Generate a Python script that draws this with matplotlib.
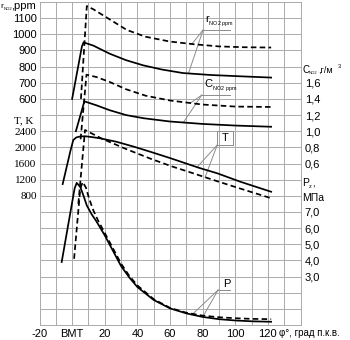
import numpy as np
import matplotlib
matplotlib.use("Agg")
import matplotlib.pyplot as plt

# ---------------- data ----------------
# r_NO2, ppm
phi_r_solid = [0, 6, 7, 13, 23, 33, 43.5, 55, 68, 85, 103, 122]
r_solid = [600, 925, 950, 930, 880, 840, 808, 782, 760, 748, 740, 732]
phi_r_dash = [5.4, 9, 13, 17, 25, 33.5, 45, 60, 75, 90, 105, 122]
r_dash = [600, 1175, 1155, 1130, 1080, 1027, 985, 955, 938, 925, 920, 918]

# C_NO2, g/m3
phi_c_solid = [2.3, 7.5, 15, 23, 33, 44, 60, 80, 100, 122]
c_solid = [1.0, 1.37, 1.32, 1.26, 1.20, 1.16, 1.12, 1.09, 1.07, 1.055]
phi_c_dash = [5.2, 8.8, 15, 23, 33, 45, 60, 80, 100, 122]
c_dash = [0.9, 1.70, 1.67, 1.61, 1.52, 1.44, 1.38, 1.33, 1.305, 1.30]

# T, K
phi_t_solid = [-5.8, -1, 0.7, 2.5, 5, 8, 12, 17, 27, 38, 48, 60, 78, 89, 103, 122]
t_solid = [1090, 1920, 2180, 2245, 2270, 2275, 2255, 2225, 2140, 2015, 1890, 1735, 1490, 1357, 1150, 900]
phi_t_dash = [3.8, 7.9, 18, 33, 48, 61, 74, 89, 103, 122]
t_dash = [600, 2430, 2220, 1960, 1720, 1530, 1360, 1160, 980, 740]

# Pz, MPa
phi_p_solid = [-6.4, 1.5, 2.8, 5, 7, 9, 12, 15, 20, 25, 30, 35, 40, 50, 60, 70, 80, 90, 100, 110, 122]
p_solid = [3.9, 8.45, 8.8, 8.55, 8.0, 7.4, 6.85, 6.4, 5.55, 4.6, 3.65, 2.95, 2.35, 1.55, 1.03, 0.72, 0.5, 0.36, 0.28, 0.23, 0.2]
phi_p_dash = [1.2, 5.0, 6.5, 8.5, 10.5, 13, 16, 20, 25, 30, 35, 40, 50, 60, 70, 80, 90, 100, 110, 122]
p_dash = [4.1, 8.45, 8.85, 8.5, 7.8, 7.1, 6.45, 5.7, 4.75, 3.8, 3.05, 2.45, 1.6, 1.06, 0.76, 0.58, 0.48, 0.42, 0.38, 0.36]

x_ticks = [-20, 0, 20, 40, 60, 80, 100, 120]
x_tick_labels = ["-20", "BMT", "20", "40", "60", "80", "100", "120"]
r_ticks = [600, 700, 800, 900, 1000, 1100]
t_ticks = [800, 1200, 1600, 2000, 2400]
c_ticks = [0.6, 0.8, 1.0, 1.2, 1.4, 1.6]
p_ticks = [3.0, 4.0, 5.0, 6.0, 7.0]

# ---------------- figure ----------------
W, H = 350, 340
fig = plt.figure(figsize=(W / 100, H / 100), dpi=100)
fig.patch.set_facecolor("white")

L, R, B, T = 39.5, 300.5, 325, 2
ax = fig.add_axes([L / W, 1 - B / H, (R - L) / W, (B - T) / H])
ax.set_xlim(-20, 140)
ax.set_ylim(0, 20)
grid_c = "#ababab"
ax.set_xticks(np.arange(-20, 141, 10))
ax.set_xticklabels([x_tick_labels[x_ticks.index(v)] if v in x_ticks else "" for v in range(-20, 141, 10)],
                   fontsize=8, family="Liberation Sans")
ax.set_yticks(np.arange(0, 21, 1))
ax.set_yticklabels([])
ax.tick_params(length=0, pad=3)
ax.grid(True, color=grid_c, lw=0.7)
for s in ax.spines.values():
    s.set_color(grid_c)
    s.set_linewidth(0.7)

def twin(lo, hi):
    a = ax.twinx()
    a.set_ylim(lo, hi)
    for s in a.spines.values():
        s.set_visible(False)
    a.tick_params(length=0)
    return a

ax_r = twin(-800, 1200)     # ppm: 600 at row 14, 100 per row
ax_t = twin(-2400, 5600)    # K: 800 at row 8, 400 per row
ax_c = twin(-1.4, 2.6)      # g/m3: 1.0 at row 12, 0.2 per row
ax_p = twin(0, 20)          # MPa: 1 per row

ax_r.yaxis.tick_left()
ax_r.set_yticks(r_ticks)
ax_r.set_yticklabels([str(v) for v in r_ticks], fontsize=8, family="Liberation Sans")
ax_r.tick_params(pad=2)

ax_t.yaxis.tick_left()
ax_t.set_yticks(t_ticks)
ax_t.set_yticklabels([str(v) for v in t_ticks], fontsize=8, family="Liberation Serif")
ax_t.tick_params(pad=2)

ax_c.yaxis.tick_right()
ax_c.set_yticks(c_ticks)
ax_c.set_yticklabels([f"{v:.1f}".replace(".", ",") for v in c_ticks], fontsize=8, family="Liberation Sans")
ax_c.tick_params(pad=3)

ax_p.yaxis.tick_right()
ax_p.set_yticks(p_ticks)
ax_p.set_yticklabels([f"{v:.1f}".replace(".", ",") for v in p_ticks], fontsize=8, family="Liberation Sans")
ax_p.tick_params(pad=3)

lw = 1.25
dash = (0, (3.2, 1.9))
ax_r.plot(phi_r_solid, r_solid, color="black", lw=lw)
ax_r.plot(phi_r_dash, r_dash, color="black", lw=lw, ls=dash)
ax_c.plot(phi_c_solid, c_solid, color="black", lw=lw)
ax_c.plot(phi_c_dash, c_dash, color="black", lw=lw, ls=dash)
ax_t.plot(phi_t_solid, t_solid, color="black", lw=lw)
ax_t.plot(phi_t_dash, t_dash, color="black", lw=lw, ls=dash)
ax_p.plot(phi_p_solid, p_solid, color="black", lw=lw)
ax_p.plot(phi_p_dash, p_dash, color="black", lw=lw, ls=dash)

# ---------------- annotations (leader lines) ----------------
lc = "#8c8c8c"
llw = 0.7

def to_row(a, v):
    lo, hi = a.get_ylim()
    return (v - lo) / (hi - lo) * 20

def leader(origin, targets, line_end):
    ox, oy = origin
    for a, xs, ys, tx in targets:
        ty = to_row(a, np.interp(tx, xs, ys))
        ax.plot([ox, tx], [oy, ty], color=lc, lw=llw)
    ax.plot([ox, line_end], [oy, oy], color=lc, lw=llw)

# r
leader((80.3, 18.27), [(ax_r, phi_r_dash, r_dash, 73.4), (ax_r, phi_r_solid, r_solid, 71.3)], 97)
ax.text(81.5, 18.35, r"$\mathregular{r_{_{NO2\ ppm}}}$", fontsize=8, family="Liberation Sans",
        ha="left", va="bottom")
# C
leader((79.5, 14.24), [(ax_c, phi_c_dash, c_dash, 72.5), (ax_c, phi_c_solid, c_solid, 68.2)], 97)
ax.text(81.0, 14.3, r"$\mathregular{C_{_{NO2\ ppm}}}$", fontsize=8, family="Liberation Sans",
        ha="left", va="bottom")
# T
leader((89.0, 11.15), [(ax_t, phi_t_solid, t_solid, 76.6), (ax_t, phi_t_dash, t_dash, 81.5)], 98.5)
ax.plot([89.0, 89.0, 98.5, 98.5], [11.15, 12.0, 12.0, 11.15], color=lc, lw=llw)
ax.text(93.7, 11.55, "T", fontsize=8, family="Liberation Sans", ha="center", va="center")
# P
leader((89.5, 2.17), [(ax_p, phi_p_solid, p_solid, 73.5), (ax_p, phi_p_dash, p_dash, 80.5)], 96.5)
ax.text(92.5, 2.25, "P", fontsize=8, family="Liberation Sans", ha="left", va="bottom")

# ---------------- axis titles ----------------
def ft(x, y, s, **kw):
    fig.text(x / W, 1 - y / H, s, **kw)

ft(0.5, 6, "r", fontsize=6, family="Liberation Sans", va="center")
ft(3.5, 8.5, "NO2", fontsize=3, family="Liberation Sans", va="center")
ft(11.5, 6, ",ppm", fontsize=8, family="Liberation Sans", va="center")

ft(14, 121, "T, K", fontsize=8, family="Liberation Serif", va="center")

ft(302.5, 70, "C", fontsize=7, family="Liberation Sans", va="center")
ft(308.5, 72.5, "NO2", fontsize=3, family="Liberation Sans", va="center")
ft(318, 70, ",г/м", fontsize=6.5, family="Liberation Sans", va="center")
ft(337.5, 66, "3", fontsize=4, family="Liberation Sans", va="center")

ft(302.5, 183, "P", fontsize=7.5, family="Liberation Sans", va="center")
ft(309, 186, "z", fontsize=4, family="Liberation Sans", va="center")
ft(312, 183, ",", fontsize=7, family="Liberation Sans", va="center")
ft(302.5, 198, "МПа", fontsize=7.5, family="Liberation Sans", va="center")

ft(279, 333, "φ°, град п.к.в.", fontsize=7, family="Liberation Sans", va="center")

fig.savefig("out.png", dpi=100, facecolor="white")
